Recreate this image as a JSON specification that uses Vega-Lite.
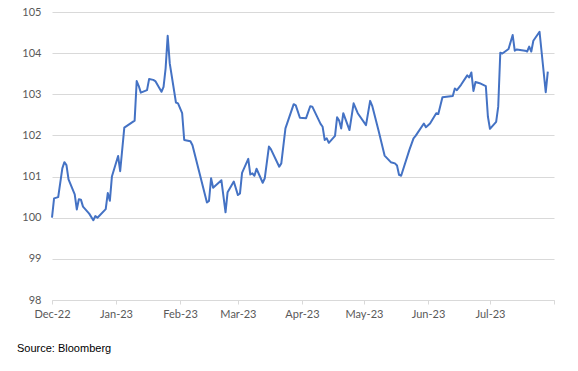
{
  "$schema": "https://vega.github.io/schema/vega-lite/v6.json",
  "width": 502,
  "height": 288,
  "autosize": {"type": "none"},
  "padding": {"left": 52, "top": 12, "right": 24, "bottom": 71},
  "background": "white",
  "config": {"view": {"stroke": null}},
  "title": {
    "text": "Source: Bloomberg",
    "orient": "bottom",
    "anchor": "start",
    "frame": "group",
    "dx": -35,
    "offset": 24,
    "font": "Liberation Sans",
    "fontSize": 11,
    "fontWeight": "normal",
    "color": "#000000"
  },
  "data": {
    "values": [
      {"date": "2022-12-01", "value": 100.0},
      {"date": "2022-12-02", "value": 100.47},
      {"date": "2022-12-04", "value": 100.5},
      {"date": "2022-12-06", "value": 101.2},
      {"date": "2022-12-07", "value": 101.35},
      {"date": "2022-12-08", "value": 101.28},
      {"date": "2022-12-09", "value": 100.93},
      {"date": "2022-12-12", "value": 100.57},
      {"date": "2022-12-13", "value": 100.2},
      {"date": "2022-12-14", "value": 100.45},
      {"date": "2022-12-15", "value": 100.44},
      {"date": "2022-12-16", "value": 100.27},
      {"date": "2022-12-19", "value": 100.1},
      {"date": "2022-12-21", "value": 99.94},
      {"date": "2022-12-22", "value": 100.04},
      {"date": "2022-12-23", "value": 100.0},
      {"date": "2022-12-27", "value": 100.21},
      {"date": "2022-12-28", "value": 100.6},
      {"date": "2022-12-29", "value": 100.41},
      {"date": "2022-12-30", "value": 101.0},
      {"date": "2023-01-02", "value": 101.5},
      {"date": "2023-01-03", "value": 101.13},
      {"date": "2023-01-05", "value": 102.19},
      {"date": "2023-01-10", "value": 102.36},
      {"date": "2023-01-11", "value": 103.32},
      {"date": "2023-01-12", "value": 103.2},
      {"date": "2023-01-13", "value": 103.04},
      {"date": "2023-01-16", "value": 103.1},
      {"date": "2023-01-17", "value": 103.37},
      {"date": "2023-01-19", "value": 103.35},
      {"date": "2023-01-20", "value": 103.32},
      {"date": "2023-01-23", "value": 103.06},
      {"date": "2023-01-24", "value": 103.18},
      {"date": "2023-01-25", "value": 103.63},
      {"date": "2023-01-26", "value": 104.42},
      {"date": "2023-01-27", "value": 103.75},
      {"date": "2023-01-30", "value": 102.8},
      {"date": "2023-01-31", "value": 102.78},
      {"date": "2023-02-02", "value": 102.54},
      {"date": "2023-02-03", "value": 101.89},
      {"date": "2023-02-06", "value": 101.86},
      {"date": "2023-02-07", "value": 101.76},
      {"date": "2023-02-14", "value": 100.37},
      {"date": "2023-02-15", "value": 100.41},
      {"date": "2023-02-16", "value": 100.96},
      {"date": "2023-02-17", "value": 100.73},
      {"date": "2023-02-21", "value": 100.91},
      {"date": "2023-02-23", "value": 100.13},
      {"date": "2023-02-24", "value": 100.62},
      {"date": "2023-02-27", "value": 100.88},
      {"date": "2023-03-01", "value": 100.55},
      {"date": "2023-03-02", "value": 100.59},
      {"date": "2023-03-03", "value": 101.09},
      {"date": "2023-03-06", "value": 101.43},
      {"date": "2023-03-07", "value": 101.05},
      {"date": "2023-03-08", "value": 101.08},
      {"date": "2023-03-09", "value": 101.02},
      {"date": "2023-03-10", "value": 101.19},
      {"date": "2023-03-13", "value": 100.85},
      {"date": "2023-03-14", "value": 100.96},
      {"date": "2023-03-16", "value": 101.73},
      {"date": "2023-03-17", "value": 101.66},
      {"date": "2023-03-21", "value": 101.24},
      {"date": "2023-03-22", "value": 101.32},
      {"date": "2023-03-24", "value": 102.17},
      {"date": "2023-03-28", "value": 102.76},
      {"date": "2023-03-29", "value": 102.73},
      {"date": "2023-03-31", "value": 102.43},
      {"date": "2023-04-03", "value": 102.42},
      {"date": "2023-04-05", "value": 102.71},
      {"date": "2023-04-06", "value": 102.7},
      {"date": "2023-04-10", "value": 102.28},
      {"date": "2023-04-11", "value": 102.21},
      {"date": "2023-04-12", "value": 101.89},
      {"date": "2023-04-13", "value": 101.93},
      {"date": "2023-04-14", "value": 101.82},
      {"date": "2023-04-17", "value": 101.99},
      {"date": "2023-04-18", "value": 102.44},
      {"date": "2023-04-19", "value": 102.36},
      {"date": "2023-04-20", "value": 102.17},
      {"date": "2023-04-21", "value": 102.54},
      {"date": "2023-04-24", "value": 102.13},
      {"date": "2023-04-26", "value": 102.78},
      {"date": "2023-04-28", "value": 102.54},
      {"date": "2023-05-02", "value": 102.25},
      {"date": "2023-05-04", "value": 102.84},
      {"date": "2023-05-05", "value": 102.72},
      {"date": "2023-05-08", "value": 102.13},
      {"date": "2023-05-11", "value": 101.51},
      {"date": "2023-05-14", "value": 101.35},
      {"date": "2023-05-16", "value": 101.32},
      {"date": "2023-05-17", "value": 101.27},
      {"date": "2023-05-18", "value": 101.04},
      {"date": "2023-05-19", "value": 101.02},
      {"date": "2023-05-23", "value": 101.65},
      {"date": "2023-05-25", "value": 101.93},
      {"date": "2023-05-26", "value": 101.99},
      {"date": "2023-05-30", "value": 102.29},
      {"date": "2023-05-31", "value": 102.2},
      {"date": "2023-06-02", "value": 102.29},
      {"date": "2023-06-05", "value": 102.54},
      {"date": "2023-06-06", "value": 102.52},
      {"date": "2023-06-08", "value": 102.93},
      {"date": "2023-06-13", "value": 102.96},
      {"date": "2023-06-14", "value": 103.14},
      {"date": "2023-06-15", "value": 103.1},
      {"date": "2023-06-17", "value": 103.23},
      {"date": "2023-06-20", "value": 103.46},
      {"date": "2023-06-21", "value": 103.41},
      {"date": "2023-06-22", "value": 103.53},
      {"date": "2023-06-23", "value": 103.08},
      {"date": "2023-06-24", "value": 103.3},
      {"date": "2023-06-26", "value": 103.27},
      {"date": "2023-06-29", "value": 103.2},
      {"date": "2023-06-30", "value": 102.46},
      {"date": "2023-07-01", "value": 102.16},
      {"date": "2023-07-04", "value": 102.33},
      {"date": "2023-07-05", "value": 102.7},
      {"date": "2023-07-06", "value": 104.01},
      {"date": "2023-07-07", "value": 103.99},
      {"date": "2023-07-10", "value": 104.1},
      {"date": "2023-07-12", "value": 104.44},
      {"date": "2023-07-13", "value": 104.06},
      {"date": "2023-07-14", "value": 104.09},
      {"date": "2023-07-18", "value": 104.06},
      {"date": "2023-07-19", "value": 104.04},
      {"date": "2023-07-20", "value": 104.16},
      {"date": "2023-07-21", "value": 104.04},
      {"date": "2023-07-22", "value": 104.3},
      {"date": "2023-07-25", "value": 104.52},
      {"date": "2023-07-28", "value": 103.05},
      {"date": "2023-07-29", "value": 103.55}
    ]
  },
  "mark": {"type": "line", "color": "#4472C4", "strokeWidth": 2, "strokeJoin": "round"},
  "encoding": {
    "x": {
      "field": "date",
      "type": "temporal",
      "title": null,
      "scale": {
        "type": "utc",
        "domain": [
          {"year": 2022, "month": 12, "date": 1, "utc": true},
          {"year": 2023, "month": 8, "date": 1, "utc": true}
        ]
      },
      "axis": {
        "values": [
          {"year": 2022, "month": 12, "date": 1, "utc": true},
          {"year": 2023, "month": 1, "date": 1, "utc": true},
          {"year": 2023, "month": 2, "date": 1, "utc": true},
          {"year": 2023, "month": 3, "date": 1, "utc": true},
          {"year": 2023, "month": 4, "date": 1, "utc": true},
          {"year": 2023, "month": 5, "date": 1, "utc": true},
          {"year": 2023, "month": 6, "date": 1, "utc": true},
          {"year": 2023, "month": 7, "date": 1, "utc": true},
          {"year": 2023, "month": 8, "date": 1, "utc": true}
        ],
        "labelExpr": "utcmonth(datum.value) == 7 ? '' : utcFormat(datum.value, '%b-%y')",
        "grid": false,
        "domainColor": "#d9d9d9",
        "tickColor": "#d9d9d9",
        "tickSize": 4,
        "labelPadding": 4,
        "labelFont": "Lato",
        "labelFontSize": 11,
        "labelColor": "#595959",
        "labelFlush": false,
        "labelOverlap": false
      }
    },
    "y": {
      "field": "value",
      "type": "quantitative",
      "title": null,
      "scale": {"domain": [98, 105], "nice": false, "zero": false},
      "axis": {
        "values": [98, 99, 100, 101, 102, 103, 104, 105],
        "domain": false,
        "ticks": false,
        "grid": true,
        "gridColor": "#d9d9d9",
        "gridWidth": 1,
        "labelPadding": 11,
        "labelFont": "Lato",
        "labelFontSize": 11,
        "labelColor": "#595959"
      }
    }
  }
}
